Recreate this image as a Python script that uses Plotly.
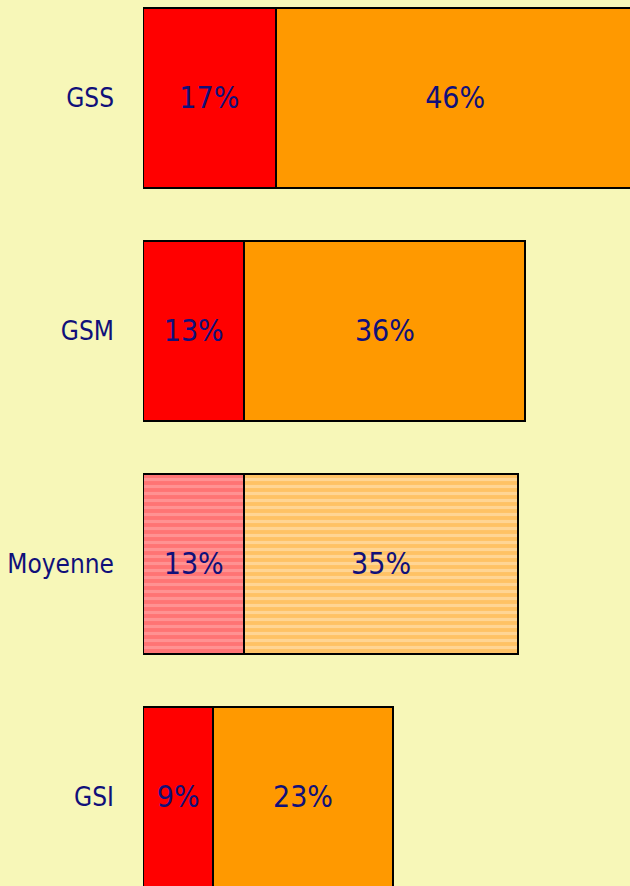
import plotly.graph_objects as go

categories = ["GSI", "Moyenne", "GSM", "GSS"]
red_values = [9, 13, 13, 17]
orange_values = [23, 35, 36, 46]
red_labels = ["9%", "13%", "13%", "17%"]
orange_labels = ["23%", "35%", "36%", "46%"]
highlight = "Moyenne"

FONT = "Liberation Sans Narrow, DejaVu Sans Condensed, sans-serif"
TXT = "#10107A"

styles = {
    "red": dict(color="#FF0000", hcolor="#FF7474", hfg="#FF9292"),
    "orange": dict(color="#FF9900", hcolor="#FFC264", hfg="#FFD594"),
}

fig = go.Figure()
for key, vals, labels in [("red", red_values, red_labels),
                          ("orange", orange_values, orange_labels)]:
    st = styles[key]
    for is_h in (False, True):
        idx = [i for i, c in enumerate(categories) if (c == highlight) == is_h]
        marker = dict(color=st["hcolor"] if is_h else st["color"],
                      line=dict(color="black", width=2))
        if is_h:
            marker["pattern"] = dict(shape="-", fgcolor=st["hfg"], fgopacity=1,
                                     size=7, solidity=0.45, fillmode="overlay")
        fig.add_trace(go.Bar(
            y=[categories[i] for i in idx], x=[vals[i] for i in idx],
            text=[labels[i] for i in idx], orientation="h",
            textposition="inside", insidetextanchor="middle",
            textfont=dict(family=FONT, size=30, color=TXT),
            marker=marker, width=0.77, hoverinfo="skip", showlegend=False,
        ))

fig.update_layout(
    barmode="stack", width=630, height=886,
    margin=dict(l=143, r=0, t=0, b=0, autoexpand=False),
    paper_bgcolor="#F7F7B8", plot_bgcolor="#F7F7B8",
    uniformtext=dict(minsize=30, mode="show"),
    xaxis=dict(range=[0, 62.4], visible=False, showgrid=False, zeroline=False),
    yaxis=dict(type="category", categoryorder="array", categoryarray=categories,
               range=[-0.382, 3.42], showgrid=False, zeroline=False, showline=False,
               ticks="", ticklabelstandoff=28, automargin=False,
               tickfont=dict(family=FONT, size=26, color=TXT)),
)
fig.write_html("out.html", config={"displayModeBar": False},
               post_script="document.body.style.margin='0';")
